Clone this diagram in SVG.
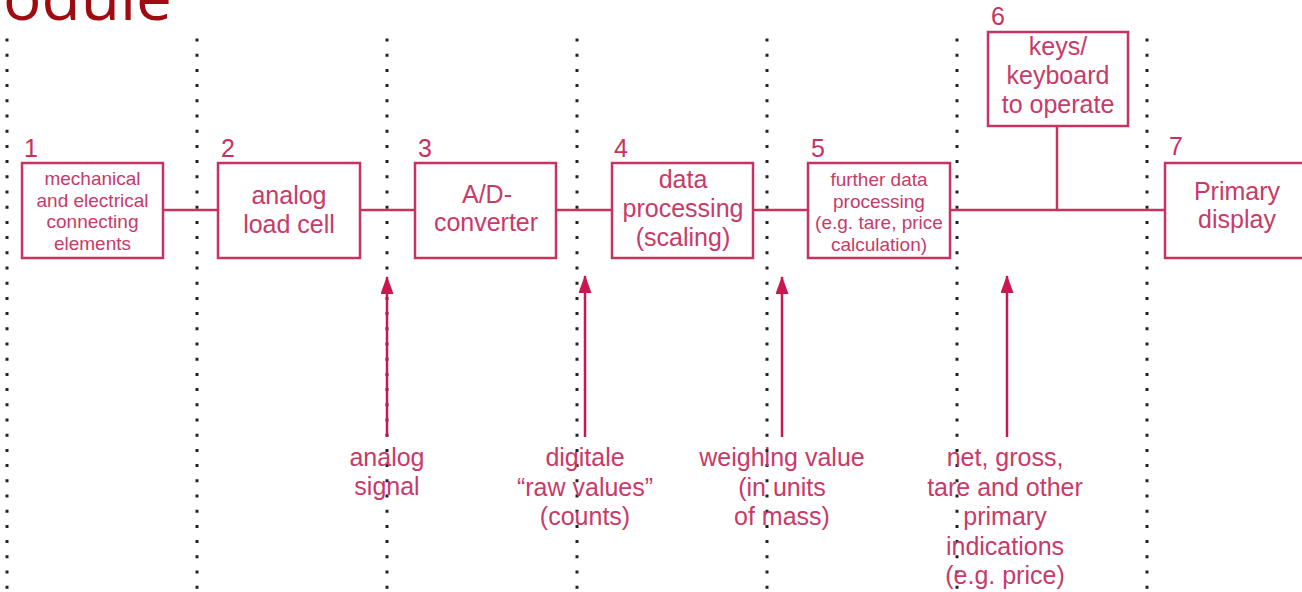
<svg xmlns="http://www.w3.org/2000/svg" width="1302" height="592" viewBox="0 0 1302 592">
<defs>
<style>
.bg{fill:#ffffff}
.sep{stroke:#222222;stroke-width:3;stroke-dasharray:3 12.2;fill:none}
.box{fill:#ffffff;stroke:#c8325f;stroke-width:2.5}
.con{stroke:#c8325f;stroke-width:2.5;fill:none}
.arr{stroke:#c8184f;stroke-width:2.5;fill:none;marker-end:url(#ah)}
.t{font-family:"Liberation Sans",Arial,sans-serif;fill:#c83a68;text-anchor:middle}
.big{font-size:25px}
.sm{font-size:19px}
.num{font-family:"Liberation Sans",Arial,sans-serif;fill:#c8325f;font-size:25px}
.title{font-family:"Open Sans","Liberation Sans",sans-serif;fill:#9e0b10;font-size:64px}
</style>
<marker id="ah" markerUnits="userSpaceOnUse" markerWidth="18" markerHeight="13" refX="17" refY="6.5" viewBox="0 0 18 13" orient="auto">
<path d="M0,0 L18,6.5 L0,13 z" fill="#c8184f"/>
</marker>
</defs>
<rect class="bg" x="0" y="0" width="1302" height="592"/>
<text class="title" x="3" y="20">odule</text>
<g id="separators">
<line class="sep" x1="7" y1="38.5" x2="7" y2="592"/>
<line class="sep" x1="197" y1="38.5" x2="197" y2="592"/>
<line class="sep" x1="387" y1="38.5" x2="387" y2="592"/>
<line class="sep" x1="577" y1="38.5" x2="577" y2="592"/>
<line class="sep" x1="767" y1="38.5" x2="767" y2="592"/>
<line class="sep" x1="957" y1="38.5" x2="957" y2="592"/>
<line class="sep" x1="1147" y1="38.5" x2="1147" y2="592"/>
</g>
<g id="connectors">
<line class="con" x1="163" y1="210" x2="218" y2="210"/>
<line class="con" x1="360" y1="210" x2="415" y2="210"/>
<line class="con" x1="556" y1="210" x2="612" y2="210"/>
<line class="con" x1="753" y1="210" x2="808" y2="210"/>
<line class="con" x1="950" y1="210" x2="1165" y2="210"/>
<line class="con" x1="1057" y1="126" x2="1057" y2="210"/>
<line class="arr" x1="387" y1="437" x2="387" y2="277"/>
<line class="arr" x1="585" y1="437" x2="585" y2="276"/>
<line class="arr" x1="782" y1="437" x2="782" y2="277"/>
<line class="arr" x1="1007" y1="437" x2="1007" y2="276"/>
</g>
<g id="node1">
<text class="num" x="24" y="157">1</text>
<rect class="box" x="22" y="163" width="141" height="95"/>
<text class="t sm" x="92.5" y="185">mechanical</text>
<text class="t sm" x="92.5" y="206.5">and electrical</text>
<text class="t sm" x="92.5" y="228">connecting</text>
<text class="t sm" x="92.5" y="249.5">elements</text>
</g>
<g id="node2">
<text class="num" x="221" y="157">2</text>
<rect class="box" x="218" y="163" width="142" height="95"/>
<text class="t big" x="289" y="204">analog</text>
<text class="t big" x="289" y="233">load cell</text>
</g>
<g id="node3">
<text class="num" x="418" y="157">3</text>
<rect class="box" x="415" y="163" width="141" height="95"/>
<text class="t big" x="487" y="203">A/D-</text>
<text class="t big" x="486" y="231">converter</text>
</g>
<g id="node4">
<text class="num" x="614" y="157">4</text>
<rect class="box" x="612" y="163" width="141" height="95"/>
<text class="t big" x="683" y="188">data</text>
<text class="t big" x="683" y="217">processing</text>
<text class="t big" x="683" y="246">(scaling)</text>
</g>
<g id="node5">
<text class="num" x="811" y="157">5</text>
<rect class="box" x="808" y="163" width="142" height="95"/>
<text class="t sm" x="879" y="186">further data</text>
<text class="t sm" x="879" y="207.5">processing</text>
<text class="t sm" x="879" y="229">(e.g. tare, price</text>
<text class="t sm" x="879" y="250.5">calculation)</text>
</g>
<g id="node6">
<text class="num" x="991" y="25">6</text>
<rect class="box" x="988" y="32" width="140" height="94"/>
<text class="t big" x="1058" y="55">keys/</text>
<text class="t big" x="1058" y="84">keyboard</text>
<text class="t big" x="1058" y="113">to operate</text>
</g>
<g id="node7">
<text class="num" x="1169" y="155">7</text>
<rect class="box" x="1165" y="163" width="146" height="95"/>
<text class="t big" x="1237" y="200">Primary</text>
<text class="t big" x="1237" y="228">display</text>
</g>
<g id="labels">
<text class="t big" x="387" y="466">analog</text>
<text class="t big" x="387" y="495">signal</text>
<text class="t big" x="585" y="466">digitale</text>
<text class="t big" x="585" y="496">“raw values”</text>
<text class="t big" x="585" y="525">(counts)</text>
<text class="t big" x="782" y="466">weighing value</text>
<text class="t big" x="782" y="496">(in units</text>
<text class="t big" x="782" y="525">of mass)</text>
<text class="t big" x="1005" y="466">net, gross,</text>
<text class="t big" x="1005" y="496">tare and other</text>
<text class="t big" x="1005" y="525">primary</text>
<text class="t big" x="1005" y="555">indications</text>
<text class="t big" x="1005" y="584">(e.g. price)</text>
</g>
</svg>
